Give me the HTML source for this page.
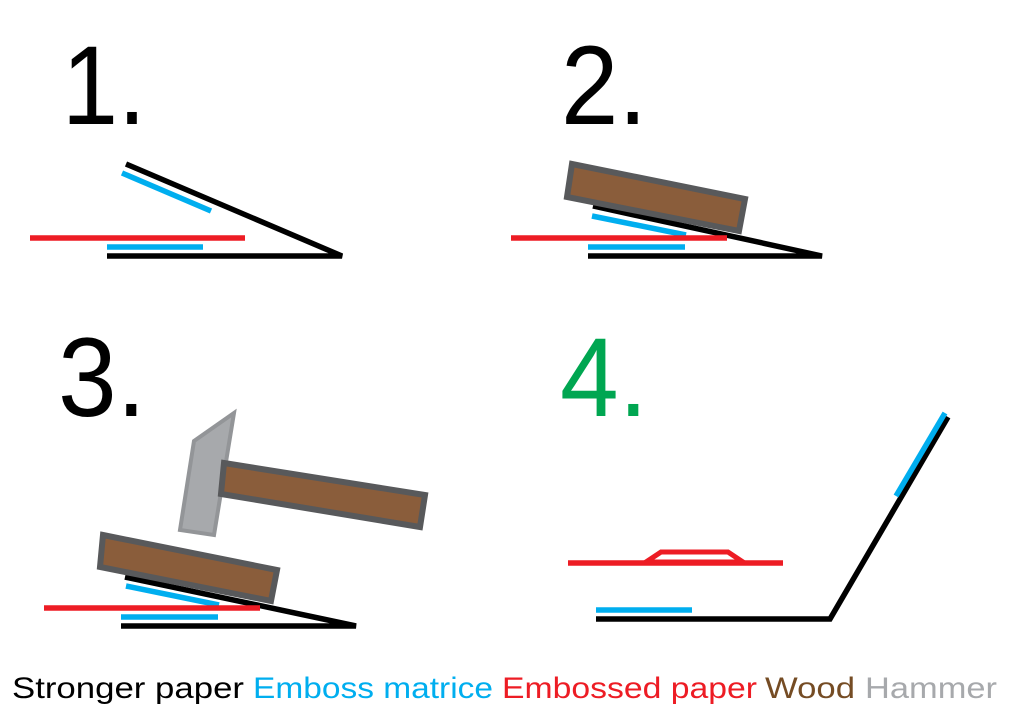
<!DOCTYPE html>
<html><head><meta charset="utf-8"><style>html,body{margin:0;padding:0;background:#fff}svg{display:block}</style></head>
<body>
<svg width="1024" height="724" viewBox="0 0 1024 724" xmlns="http://www.w3.org/2000/svg" font-family="Liberation Sans, sans-serif">
<rect width="1024" height="724" fill="#fff"/>
<g font-size="112">
<text x="62" y="124" textLength="84" lengthAdjust="spacingAndGlyphs">1.</text>
<text x="561" y="124" textLength="86" lengthAdjust="spacingAndGlyphs">2.</text>
<text x="58" y="416" textLength="88" lengthAdjust="spacingAndGlyphs">3.</text>
<text x="560" y="416" fill="#00a651" textLength="88" lengthAdjust="spacingAndGlyphs">4.</text>
</g>
<g stroke-width="5.5" fill="none" stroke-linecap="butt">
<!-- panel 1 -->
<polyline points="126,164 342,256 107,256" stroke="#000"/>
<line x1="122" y1="173" x2="211" y2="211" stroke="#00aeef"/>
<line x1="107" y1="247" x2="203" y2="247" stroke="#00aeef"/>
<line x1="30" y1="238" x2="245" y2="238" stroke="#ed1c24"/>
<!-- panel 2 -->
<polyline points="593,206 822,256 588,256" stroke="#000"/>
<line x1="592" y1="216" x2="686" y2="235" stroke="#00aeef"/>
<line x1="588" y1="247" x2="685" y2="247" stroke="#00aeef"/>
<line x1="511" y1="238" x2="727" y2="238" stroke="#ed1c24"/>
<polygon points="572,164 745,199 739,231 567,197" fill="#8a5d3b" stroke="#58595b" stroke-width="6"/>
<!-- panel 3 -->
<polyline points="125,577 356,626 121,626" stroke="#000"/>
<line x1="126" y1="586" x2="219" y2="605" stroke="#00aeef"/>
<line x1="121" y1="617" x2="218" y2="617" stroke="#00aeef"/>
<line x1="44" y1="608" x2="260" y2="608" stroke="#ed1c24"/>
<polygon points="103,535 277,570 271,601 100,567" fill="#8a5d3b" stroke="#58595b" stroke-width="6"/>
<polygon points="194,441 234,413 214,535 180,530" fill="#a7a9ac" stroke="#939598" stroke-width="4"/>
<polygon points="224,463 425,495 420,527 221,494" fill="#8a5d3b" stroke="#58595b" stroke-width="6"/>
<!-- panel 4 -->
<polyline points="596,619 830,619 948,417" stroke="#000"/>
<line x1="596" y1="610" x2="692" y2="610" stroke="#00aeef"/>
<line x1="945" y1="413" x2="896" y2="496" stroke="#00aeef"/>
<line x1="568" y1="563" x2="783" y2="563" stroke="#ed1c24"/>
<polygon points="646,562 661,552 728,552 743,562" stroke="#ed1c24" stroke-width="5"/>
</g>
<g font-size="30">
<text x="12" y="698" textLength="232" lengthAdjust="spacingAndGlyphs">Stronger paper</text>
<text x="253" y="698" fill="#00aeef" textLength="240" lengthAdjust="spacingAndGlyphs">Emboss matrice</text>
<text x="502" y="698" fill="#ed1c24" textLength="255" lengthAdjust="spacingAndGlyphs">Embossed paper</text>
<text x="765" y="698" fill="#754c24" textLength="90" lengthAdjust="spacingAndGlyphs">Wood</text>
<text x="865" y="698" fill="#a7a9ac" textLength="132" lengthAdjust="spacingAndGlyphs">Hammer</text>
</g>
</svg>
</body></html>
